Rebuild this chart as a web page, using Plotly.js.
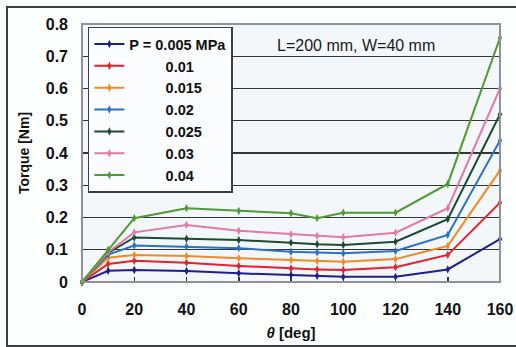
<!DOCTYPE html>
<html>
<head>
<meta charset="utf-8">
<script src="https://cdn.plot.ly/plotly-3.0.1.min.js"></script>
<style>
html,body{margin:0;padding:0;background:#fdfefe;}
#chart{width:516px;height:347px;}
#frame{position:absolute;left:6px;top:6px;width:530px;height:337px;border:2px solid #3a3f44;pointer-events:none;}
</style>
</head>
<body>
<div id="chart"></div>
<div id="frame"></div>
<script>
const theta = [0, 10, 20, 40, 60, 80, 90, 100, 120, 140, 160];
const p0005 = [0, 0.035, 0.037, 0.034, 0.027, 0.022, 0.019, 0.016, 0.016, 0.039, 0.133];
const p001  = [0, 0.056, 0.066, 0.060, 0.050, 0.042, 0.039, 0.037, 0.046, 0.084, 0.246];
const p0015 = [0, 0.075, 0.084, 0.081, 0.074, 0.068, 0.065, 0.063, 0.071, 0.112, 0.346];
const p002  = [0, 0.085, 0.113, 0.110, 0.105, 0.094, 0.092, 0.089, 0.096, 0.146, 0.439];
const p0025 = [0, 0.090, 0.138, 0.134, 0.130, 0.122, 0.117, 0.115, 0.125, 0.195, 0.520];
const p003  = [0, 0.092, 0.154, 0.177, 0.159, 0.148, 0.143, 0.139, 0.153, 0.229, 0.600];
const p004  = [0, 0.100, 0.198, 0.229, 0.220, 0.213, 0.198, 0.215, 0.215, 0.304, 0.757];
const seriesNames = ["P = 0.005 MPa", "0.01", "0.015", "0.02", "0.025", "0.03", "0.04"];
const seriesColors = ["#1c1f8f", "#e3222b", "#f08a24", "#2a72c4", "#1d4a33", "#e27aa6", "#4f9a34"];
const xTicks = [0, 20, 40, 60, 80, 100, 120, 140, 160];
const yTicks = [0, 0.1, 0.2, 0.3, 0.4, 0.5, 0.6, 0.7, 0.8];
const yTickText = ["0", "0.1", "0.2", "0.3", "0.4", "0.5", "0.6", "0.7", "0.8"];

const allSeries = [p0005, p001, p0015, p002, p0025, p003, p004];
const pad = "\u00a0".repeat(9);
const traces = allSeries.map((ys, i) => ({
  x: theta, y: ys, type: "scatter", mode: "lines+markers",
  name: i === 0 ? seriesNames[i] : pad + seriesNames[i],
  line: {color: seriesColors[i], width: 2},
  marker: {color: seriesColors[i], size: 6, symbol: "diamond-tall"},
  cliponaxis: false
}));

const font = "Liberation Sans, Arial, sans-serif";
const layout = {
  width: 516, height: 347,
  margin: {l: 82, r: 16, t: 24, b: 65},
  paper_bgcolor: "#fdfefe",
  plot_bgcolor: "#f3f7fa",
  showlegend: true,
  legend: {
    x: 0.014, y: 0.99, xanchor: "left", yanchor: "top",
    bgcolor: "#fbfcfd", bordercolor: "#3a3f44", borderwidth: 1.5,
    font: {family: font, size: 14.5, color: "#111", weight: "bold"},
    tracegroupgap: 0, itemwidth: 30
  },
  xaxis: {
    range: [0, 160], tickvals: xTicks, ticktext: xTicks.map(String),
    showgrid: false, zeroline: false, showline: false,
    ticks: "inside", ticklen: 5, tickcolor: "#333", tickwidth: 1.5,
    ticklabelstandoff: 16,
    tickfont: {family: font, size: 16, color: "#111", weight: "bold"},
    title: {text: "<i>θ</i> [deg]", font: {family: font, size: 15, color: "#111", weight: "bold"}, standoff: 10}
  },
  yaxis: {
    range: [0, 0.8], tickvals: yTicks, ticktext: yTickText,
    showgrid: true, gridcolor: "#33373c", gridwidth: 1.4,
    zeroline: false, showline: false, ticks: "",
    ticklabelstandoff: 13,
    tickfont: {family: font, size: 16, color: "#111", weight: "bold"},
    title: {text: "Torque [Nm]", font: {family: font, size: 14, color: "#111", weight: "bold"}, standoff: 12}
  },
  shapes: [{
    type: "rect", xref: "paper", yref: "paper", x0: 0, x1: 1, y0: 0, y1: 1,
    line: {color: "#8e9399", width: 2}, layer: "above"
  }],
  annotations: [{
    text: "L=200 mm, W=40 mm", xref: "paper", yref: "paper",
    x: 0.655, y: 0.915, xanchor: "center", yanchor: "middle", showarrow: false,
    font: {family: font, size: 16, color: "#1a1a1a"}
  }]
};

Plotly.newPlot("chart", traces, layout, {displayModeBar: false, staticPlot: true});
</script>
</body>
</html>
